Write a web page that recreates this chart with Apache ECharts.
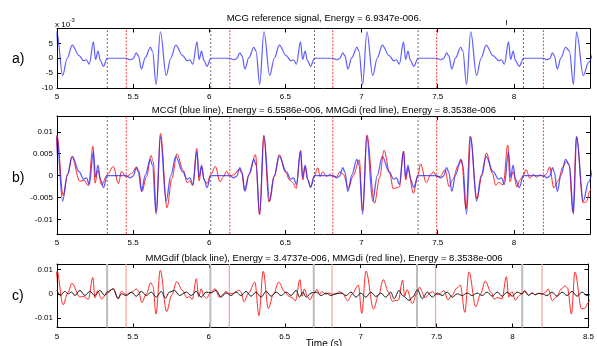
<!DOCTYPE html>
<html>
<head>
<meta charset="utf-8">
<script src="https://cdn.jsdelivr.net/npm/echarts@6/dist/echarts.min.js"></script>
<style>
html, body { margin: 0; padding: 0; background: #fff; }
#chart { width: 597px; height: 346px; }
</style>
</head>
<body>
<div id="chart"></div>
<script>
// values in units of 1e-3, time in seconds
const mcgRef = [
  [4.933, 3.7], [4.947, 2.4], [4.971, -8.8], [4.999, 8.9], [5.037, -5.8], [5.067, 0.0], [5.100, 4.4], [5.145, 0.9],
  [5.175, -0.8], [5.193, -0.5], [5.212, -2.0], [5.239, 5.5], [5.253, -0.4], [5.269, 2.4], [5.285, -0.8], [5.305, -2.7], [5.330, 0],
  [5.455, 0], [5.480, -0.5], [5.500, -0.1], [5.521, 1.8], [5.535, 0.8], [5.554, -3.6], [5.580, 0.2], [5.613, 3.7], [5.627, 2.4],
  [5.651, -8.8], [5.679, 8.9], [5.717, -5.8], [5.747, 0.0], [5.780, 4.4], [5.825, 0.9], [5.855, -0.8], [5.873, -0.5], [5.892, -2.0],
  [5.919, 5.5], [5.933, -0.4], [5.949, 2.4], [5.965, -0.8], [5.985, -2.7], [6.010, 0],
  [6.135, 0], [6.160, -0.5], [6.180, -0.1], [6.201, 1.8], [6.215, 0.8], [6.234, -3.6], [6.260, 0.2], [6.293, 3.7], [6.307, 2.4],
  [6.331, -8.8], [6.359, 8.9], [6.397, -5.8], [6.427, 0.0], [6.460, 4.4], [6.505, 0.9], [6.535, -0.8], [6.553, -0.5], [6.572, -2.0],
  [6.599, 5.5], [6.613, -0.4], [6.629, 2.4], [6.645, -0.8], [6.665, -2.7], [6.691, 0],
  [6.811, 0], [6.836, -0.5], [6.856, -0.1], [6.877, 1.8], [6.891, 0.8], [6.910, -3.6], [6.936, 0.2], [6.969, 3.7], [6.983, 2.4],
  [7.007, -8.8], [7.035, 8.9], [7.073, -5.8], [7.103, 0.0], [7.136, 4.4], [7.181, 0.9], [7.211, -0.8], [7.229, -0.5], [7.248, -2.0],
  [7.275, 5.5], [7.289, -0.4], [7.305, 2.4], [7.321, -0.8], [7.343, -2.7], [7.371, 0],
  [7.493, 0], [7.518, -0.5], [7.538, -0.1], [7.559, 1.8], [7.573, 0.8], [7.592, -3.6], [7.618, 0.2], [7.651, 3.7], [7.665, 2.4],
  [7.689, -8.8], [7.717, 8.9], [7.755, -5.8], [7.785, 0.0], [7.818, 4.4], [7.863, 0.9], [7.901, -0.8], [7.919, -0.5], [7.938, -2.0],
  [7.965, 5.5], [7.979, -0.4], [7.995, 2.4], [8.011, -0.8], [8.035, -2.7], [8.064, 0],
  [8.194, 0], [8.217, -0.5], [8.235, -0.1], [8.254, 1.8], [8.266, 0.8], [8.285, -3.6], [8.310, 0.2], [8.340, 3.7], [8.365, 2.4],
  [8.391, -8.8], [8.412, 8.9], [8.456, -5.8], [8.490, -1.5], [8.520, 2.0]
]

const mmgDi = [
  [4.947, 3.2], [4.972, -8.2], [5.000, 9.2], [5.040, -4.5], [5.072, 0.5], [5.098, 4.3], [5.150, -1.3], [5.176, -1.0], [5.206, -2.3],
  [5.236, 6.7], [5.250, -1.7], [5.268, 1.2], [5.293, -2.1], [5.330, 0.2], [5.370, 2.1], [5.403, -1.8], [5.424, 1.0], [5.455, -0.3],
  [5.490, 0.5], [5.523, 2.0], [5.538, 1.0], [5.558, -3.6], [5.588, -0.2], [5.617, 4.6], [5.632, 3.2], [5.652, -8.3], [5.680, 9.6],
  [5.722, -7.3], [5.755, -0.6], [5.788, 5.0], [5.828, 1.3], [5.855, -1.6], [5.873, -1.2], [5.891, -2.3], [5.918, 6.2], [5.933, -1.2],
  [5.950, 2.0], [5.967, -1.0], [5.985, -1.8], [6.010, 0.3], [6.040, 2.1], [6.070, -1.4], [6.092, -0.3], [6.113, 1.0], [6.135, 0.0],
  [6.160, 0.2], [6.198, 1.5], [6.214, 0.5], [6.231, -3.3], [6.262, 0.3], [6.303, 4.8], [6.330, -8.9], [6.358, 9.2], [6.392, -6.0],
  [6.425, -0.3], [6.460, 4.8], [6.500, 0.8], [6.528, -1.0], [6.548, -1.6], [6.570, -2.9], [6.600, 5.8], [6.614, -1.0], [6.630, 2.0],
  [6.648, -1.0], [6.665, -2.5], [6.691, 0.0], [6.712, 1.8], [6.728, -0.2], [6.745, 0.9], [6.770, -0.2], [6.790, 0.3], [6.811, -0.1],
  [6.836, -0.2], [6.858, 0.9], [6.880, 0.3], [6.914, -2.9], [6.945, 0.0], [6.985, 3.6], [7.007, -8.0], [7.035, 9.3], [7.085, -6.3],
  [7.118, -0.5], [7.148, 5.8], [7.185, 0.5], [7.208, -3.0], [7.225, -2.8], [7.248, -2.6], [7.276, 5.6], [7.290, -1.0], [7.305, 1.7],
  [7.340, -4.0], [7.371, 0.2], [7.387, 2.7], [7.425, -1.6], [7.455, 0.3], [7.473, 0.9], [7.493, -0.2],
  [7.515, -0.2], [7.548, 1.3], [7.575, -2.5], [7.600, -0.8], [7.635, 2.4], [7.656, 3.6], [7.686, -7.6], [7.713, 9.0], [7.758, -5.3],
  [7.790, 0.0], [7.820, 5.2], [7.860, 0.5], [7.880, -2.2], [7.900, -1.5], [7.930, -2.1], [7.960, 7.0], [7.975, -1.4], [7.995, 0.9],
  [8.020, -2.6], [8.040, -1.0], [8.064, 0.2], [8.080, 1.4], [8.105, -0.6], [8.130, 0.3], [8.150, -0.4], [8.172, 0.2], [8.194, -0.2],
  [8.215, 0.5], [8.235, 2.0], [8.262, -2.8], [8.290, -1.2], [8.322, 2.0], [8.345, 3.3], [8.362, 2.4], [8.388, -8.3], [8.411, 8.9],
  [8.455, -6.2], [8.475, -6.0], [8.500, -3.5], [8.520, -1.0]
]

const mmgDif = [
  [5.000, 1.4], [5.022, -0.7], [5.052, 1.0], [5.074, 0.0], [5.096, 0.7], [5.118, -0.7], [5.151, 1.4], [5.184, -0.7], [5.216, 1.0],
  [5.249, -0.7], [5.282, 1.4], [5.315, -0.7], [5.330, 0.7], [5.370, 2.0], [5.403, -2.0], [5.424, 0.0], [5.457, -0.7], [5.490, 0.7],
  [5.522, -1.0], [5.555, 1.0], [5.588, -0.7], [5.621, 0.7], [5.654, -1.4], [5.687, 1.0], [5.713, -1.8], [5.741, 0.7], [5.774, 1.4],
  [5.807, -0.7], [5.851, 0.7], [5.884, -0.7], [5.916, 1.0], [5.949, -1.4], [5.982, 0.7], [6.015, 0.4], [6.048, 1.4], [6.080, -1.4],
  [6.113, 0.4], [6.146, -0.7], [6.179, 0.7], [6.212, -0.7], [6.245, 1.0], [6.278, -1.0], [6.311, 0.7], [6.344, -1.4], [6.377, 1.0],
  [6.410, -1.0], [6.443, 0.7], [6.476, -0.7], [6.509, 0.7], [6.542, -0.7], [6.575, 1.4], [6.597, -1.4], [6.619, 0.7], [6.641, -1.4],
  [6.673, 0.3], [6.706, 0.7], [6.739, -0.7], [6.772, 0.3], [6.804, -0.7], [6.837, 0.0], [6.870, 0.3], [6.903, -0.7], [6.936, 0.7],
  [6.969, -1.4], [7.001, 0.3], [7.034, -1.4], [7.067, 0.7], [7.100, -1.1], [7.133, 0.3], [7.165, -1.4], [7.198, 0.7], [7.220, -2.0],
  [7.253, 1.4], [7.275, -0.7], [7.319, -2.7], [7.341, -1.4], [7.374, 1.6], [7.406, -2.0], [7.439, 0.7], [7.472, -1.4], [7.505, 0.3],
  [7.537, -0.7], [7.570, 0.7], [7.603, -1.4], [7.636, 0.0], [7.669, -0.7], [7.701, 0.3], [7.734, -0.7], [7.767, 0.3], [7.800, -0.7],
  [7.833, 0.7], [7.866, -1.0], [7.899, 0.7], [7.932, -1.0], [7.965, 0.7], [7.998, -1.0], [8.030, 0.7], [8.064, 0.0], [8.080, 1.0],
  [8.105, -0.6], [8.130, 0.3], [8.150, -0.4], [8.170, 0.2], [8.194, 0.0], [8.227, -0.7], [8.260, 0.7], [8.293, -1.0], [8.326, 0.7],
  [8.359, -0.7], [8.392, 1.0], [8.425, -1.0], [8.458, 0.7], [8.491, -0.7], [8.520, 0.0]
]

const beatEnd = [5.330, 6.010, 6.691, 7.371, 8.064]
const beatOnset = [5.455, 6.135, 6.811, 7.493, 8.194]

const yTicksA = [-10, -5, 0, 5, 10]
const yLabelsA = [-10, -5, 0, 5]
const yTicksB = [-10, -5, 0, 5, 10]
const yTicksC = [-10, 0, 10]

const titles = [
  'MCG reference signal, Energy = 6.9347e-006.',
  'MCGf (blue line), Energy = 6.5586e-006, MMGdi (red line), Energy = 8.3538e-006',
  'MMGdif (black line), Energy = 3.4737e-006, MMGdi (red line), Energy = 8.3538e-006'
]

const font = '"Liberation Sans", Arial, Helvetica, sans-serif'
const chart = echarts.init(document.getElementById('chart'))

const grids = [
  { left: 57, right: 7, top: 28.5, height: 59.5 },
  { left: 57, right: 7, top: 116, height: 118 },
  { left: 57, right: 7, top: 264, height: 63.5 }
]
const yRanges = [[-10, 10], [-13.3, 13.6], [-13.8, 12.2]]

function xAxisFor (i, top) {
  return {
    type: 'value',
    gridIndex: i,
    position: top ? 'top' : 'bottom',
    min: 5,
    max: 8.5,
    interval: 0.5,
    axisLine: { show: true, onZero: false, lineStyle: { color: '#000', width: 1 } },
    axisTick: { show: true, inside: true, length: 4, lineStyle: { color: '#000' } },
    axisLabel: {
      show: !top,
      fontSize: 8,
      fontFamily: font,
      color: '#000',
      margin: 5,
      showMinLabel: true,
      showMaxLabel: i === 2
    },
    splitLine: { show: false }
  }
}

function yAxisFor (i, right) {
  const ticks = i === 0 ? yTicksA : (i === 1 ? yTicksB : yTicksC)
  const labels = i === 0 ? yLabelsA : ticks
  return {
    type: 'value',
    gridIndex: i,
    position: right ? 'right' : 'left',
    min: yRanges[i][0],
    max: yRanges[i][1],
    axisLine: { show: true, onZero: false, lineStyle: { color: '#000', width: 1 } },
    axisTick: { show: true, inside: true, length: 4, customValues: ticks, lineStyle: { color: '#000' } },
    axisLabel: {
      show: !right,
      customValues: labels,
      fontSize: 8,
      fontFamily: font,
      color: '#000',
      margin: 4,
      formatter: v => i === 0 ? String(v) : String(v / 1000)
    },
    splitLine: { show: false }
  }
}

// one small line series per vertical marker, spanning the panel's y range
function guideLine (i, t, style) {
  return {
    type: 'line',
    xAxisIndex: i,
    yAxisIndex: i,
    data: [[t, yRanges[i][0]], [t, yRanges[i][1]]],
    showSymbol: false,
    silent: true,
    z: 1,
    lineStyle: style,
    itemStyle: { color: style.color },
    emphasis: { disabled: true },
    animation: false
  }
}

const endStyle = [
  { color: '#4d4d4d', width: 0.8, type: [2, 2] },
  { color: '#4d4d4d', width: 0.8, type: [2, 2] },
  { color: '#bdbdbd', width: 2, type: 'solid' }
]
const onsetStyle = [
  { color: '#ff4040', width: 1, type: [2, 1.5] },
  { color: '#ff4040', width: 1, type: [2, 1.5] },
  { color: '#f5a3a3', width: 1.2, type: 'solid' }
]

function signal (i, data, color, width) {
  return {
    type: 'line',
    xAxisIndex: i,
    yAxisIndex: i,
    data: data,
    showSymbol: false,
    smooth: 0.35,
    smoothMonotone: 'x',
    clip: true,
    z: 3,
    lineStyle: { color: color, width: width },
    animation: false
  }
}

const blue = 'rgba(40, 40, 255, 0.75)'
const red = '#ff2a2a'

const guides = []
for (let i = 0; i < 3; i++) {
  beatEnd.forEach(t => guides.push(guideLine(i, t, endStyle[i])))
  beatOnset.forEach(t => guides.push(guideLine(i, t, onsetStyle[i])))
}

function label (text, x, y, size, align, valign) {
  return {
    type: 'text', x: x, y: y,
    style: { text: text, font: size + 'px ' + font, fill: '#000', textAlign: align || 'left', textVerticalAlign: valign || 'middle' }
  }
}

chart.setOption({
  animation: false,
  grid: grids,
  xAxis: [0, 1, 2].map(i => xAxisFor(i, false)).concat([0, 1, 2].map(i => xAxisFor(i, true))),
  yAxis: [0, 1, 2].map(i => yAxisFor(i, false)).concat([0, 1, 2].map(i => yAxisFor(i, true))),
  series: guides.concat([
    signal(0, mcgRef, blue, 1.2),
    signal(1, mmgDi, red, 1),
    signal(1, mcgRef, blue, 1.3),
    signal(2, mmgDi, red, 1),
    signal(2, mmgDif, '#1a1a1a', 1)
  ]),
  graphic: [
    label(titles[0], 324, 18, 9.5, 'center'),
    label(titles[1], 324, 110, 9.5, 'center'),
    label(titles[2], 324, 258, 9.5, 'center'),
    label('a)', 12, 59, 14),
    label('b)', 12, 178, 14),
    label('c)', 12, 296, 14),
    label('x 10', 55, 24.5, 8),
    label('-3', 69.5, 20, 6),
    label('Time (s)', 324, 339, 10, 'center', 'top'),
    { type: 'line', shape: { x1: 506.5, y1: 20, x2: 506.5, y2: 25 }, style: { stroke: '#444', lineWidth: 1 } }
  ]
})
</script>
</body>
</html>
